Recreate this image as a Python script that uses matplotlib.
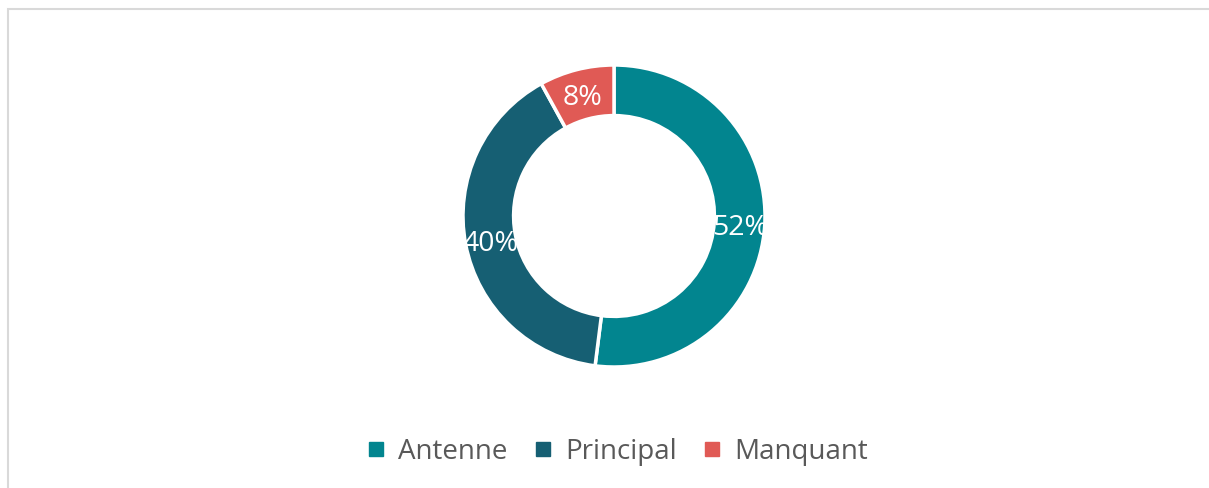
import matplotlib.pyplot as plt
from matplotlib.lines import Line2D
from matplotlib.patches import Rectangle
from matplotlib.transforms import offset_copy

categories = ["Antenne", "Principal", "Manquant"]
shares = [52, 40, 8]
colors = ["#02858F", "#165F73", "#E05A55"]

W, H = 1209, 488
fig = plt.figure(figsize=(W / 100, H / 100), dpi=100)

# light frame like the spreadsheet chart area
fig.patches.append(Rectangle((8 / W, -0.1), 1.2, 1 - 9 / H + 0.1,
                             transform=fig.transFigure, fill=False,
                             edgecolor="#D9D9D9", linewidth=1.5))

cx, cy, r = 614, 216, 151
ax = fig.add_axes([(cx - r) / W, (H - cy - r) / H, 2 * r / W, 2 * r / H])
wedges, texts = ax.pie(shares, colors=colors, startangle=90, counterclock=False,
                       radius=1, labels=[f"{v}%" for v in shares],
                       labeldistance=0.835,
                       wedgeprops=dict(width=0.335, edgecolor="white", linewidth=2.5),
                       textprops=dict(color="white", fontsize=20.5, family="Open Sans",
                                      ha="center", va="center"))
for t in texts:
    t.set_transform(offset_copy(ax.transData, fig=fig, y=-3, units="points"))
ax.set_xlim(-1, 1)
ax.set_ylim(-1, 1)
ax.set_aspect("equal")
ax.axis("off")

handles = [Line2D([], [], marker="s", linestyle="none", markersize=10,
                  markerfacecolor=c, markeredgecolor=c) for c in colors]
fig.legend(handles, categories, loc="center", bbox_to_anchor=(617 / W, 1 - 452 / H),
           ncol=3, frameon=False, handlelength=0.7, handletextpad=0.45,
           columnspacing=0.92, prop=dict(family="Open Sans", size=20),
           labelcolor="#595959")

fig.savefig("out.png", dpi=100)
